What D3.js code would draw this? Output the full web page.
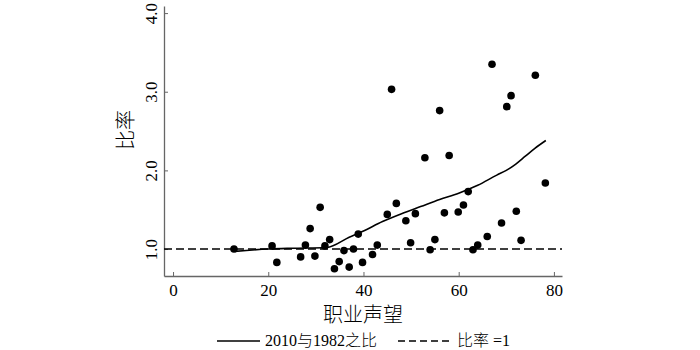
<!DOCTYPE html>
<html>
<head>
<meta charset="utf-8">
<script src="https://cdn.jsdelivr.net/npm/d3@7"></script>
<style>
  body { margin: 0; background: #fff; }
  text { font-family: "Liberation Serif", "Noto Sans CJK SC", serif; }
</style>
</head>
<body>
<svg id="chart"></svg>
<script>
// scatter: occupational prestige vs ratio
const prestige = [12.8, 20.8, 21.8, 26.8, 27.8, 28.8, 29.8, 30.9, 31.9, 32.9,
  33.9, 34.9, 35.9, 37.0, 37.9, 38.9, 39.8, 41.9, 42.9, 45.0,
  45.9, 46.9, 48.9, 49.9, 50.9, 52.9, 54.0, 55.0, 56.0, 57.0,
  58.0, 59.9, 61.0, 62.0, 63.0, 64.0, 66.0, 67.0, 69.0, 70.1,
  71.0, 72.1, 73.1, 76.1, 78.2];
const ratio = [1.0, 1.04, 0.83, 0.90, 1.05, 1.26, 0.91, 1.53, 1.04, 1.12,
  0.75, 0.84, 0.98, 0.77, 1.0, 1.19, 0.83, 0.93, 1.05, 1.44,
  3.03, 1.58, 1.36, 1.08, 1.45, 2.16, 0.99, 1.12, 2.76, 1.46,
  2.19, 1.47, 1.56, 1.73, 0.99, 1.05, 1.16, 3.35, 1.33, 2.81,
  2.95, 1.48, 1.11, 3.21, 1.84];

// smoothed 2010/1982 ratio
const fitX = [13, 20, 25, 32.3, 37, 40, 44, 48, 52, 56, 60, 64, 68, 70, 72, 74, 76, 78.3];
const fitY = [0.97, 1.0, 1.01, 1.02, 1.15, 1.23, 1.35, 1.45, 1.54, 1.63, 1.71, 1.81, 1.94, 2.0, 2.08, 2.18, 2.28, 2.38];

const xTicks = [0, 20, 40, 60, 80];
const yTicks = [1, 2, 3, 4];
const baseline = 1;

const W = 700, H = 350;
const margin = {top: 6, right: 138, bottom: 74, left: 164};

const svg = d3.select("#chart").attr("width", W).attr("height", H);

const x = d3.scaleLinear().domain([-1.9, 81.7]).range([margin.left, W - margin.right]);
const y = d3.scaleLinear().domain([0.657, 4.09]).range([H - margin.bottom, margin.top]);

const axisColor = "#666";

// x axis
const gx = svg.append("g")
  .attr("transform", `translate(0, ${H - margin.bottom})`)
  .call(d3.axisBottom(x).tickValues(xTicks).tickSizeInner(-4).tickSizeOuter(0).tickPadding(8));
gx.select(".domain").attr("stroke", axisColor).attr("stroke-width", 1.3);
gx.selectAll(".tick line").attr("stroke", axisColor);
gx.selectAll(".tick text")
  .attr("fill", "#000")
  .style("font-size", "17px")
  .style("font-family", "Liberation Serif");

// y axis
const gy = svg.append("g")
  .attr("transform", `translate(${margin.left}, 0)`)
  .call(d3.axisLeft(y).tickValues(yTicks).tickFormat(d3.format(".1f")).tickSizeInner(-4).tickSizeOuter(0));
gy.select(".domain").attr("stroke", axisColor).attr("stroke-width", 1.3);
gy.selectAll(".tick line").attr("stroke", axisColor);
gy.selectAll(".tick text")
  .attr("x", 0)
  .attr("y", -7)
  .attr("dy", 0)
  .attr("text-anchor", "middle")
  .attr("transform", "rotate(-90)")
  .attr("fill", "#000")
  .style("font-size", "17px")
  .style("font-family", "Liberation Serif");

// reference line ratio = 1
svg.append("line")
  .attr("x1", x.range()[0]).attr("x2", x.range()[1])
  .attr("y1", y(baseline)).attr("y2", y(baseline))
  .attr("stroke", "#000")
  .attr("stroke-width", 1.5)
  .attr("stroke-dasharray", "8,4");

// fitted line
const line = d3.line().curve(d3.curveMonotoneX).x(d => x(d[0])).y(d => y(d[1]));
svg.append("path")
  .datum(d3.zip(fitX, fitY))
  .attr("d", line)
  .attr("fill", "none")
  .attr("stroke", "#000")
  .attr("stroke-width", 1.6);

// points
svg.append("g").selectAll("circle")
  .data(d3.zip(prestige, ratio))
  .join("circle")
  .attr("cx", d => x(d[0]))
  .attr("cy", d => y(d[1]))
  .attr("r", 3.8)
  .attr("fill", "#000");

// axis titles
svg.append("text")
  .attr("x", (x.range()[0] + x.range()[1]) / 2)
  .attr("y", 322)
  .attr("text-anchor", "middle")
  .style("font-size", "20px")
  .style("font-weight", 300)
  .text("职业声望");

svg.append("text")
  .attr("transform", "translate(133, 130) rotate(-90)")
  .attr("text-anchor", "middle")
  .style("font-size", "20px")
  .style("font-weight", 300)
  .text("比率");

// legend
const legY = 341;
svg.append("line")
  .attr("x1", 217).attr("x2", 260)
  .attr("y1", legY).attr("y2", legY)
  .attr("stroke", "#000").attr("stroke-width", 1.5);
svg.append("text")
  .attr("x", 265).attr("y", 346)
  .style("font-size", "16px")
  .style("font-weight", 300)
  .text("2010与1982之比");
svg.append("line")
  .attr("x1", 398).attr("x2", 453)
  .attr("y1", legY).attr("y2", legY)
  .attr("stroke", "#000").attr("stroke-width", 1.5)
  .attr("stroke-dasharray", "7,4");
svg.append("text")
  .attr("x", 457).attr("y", 346)
  .style("font-size", "16px")
  .style("font-weight", 300)
  .text("比率 =1");
</script>
</body>
</html>
